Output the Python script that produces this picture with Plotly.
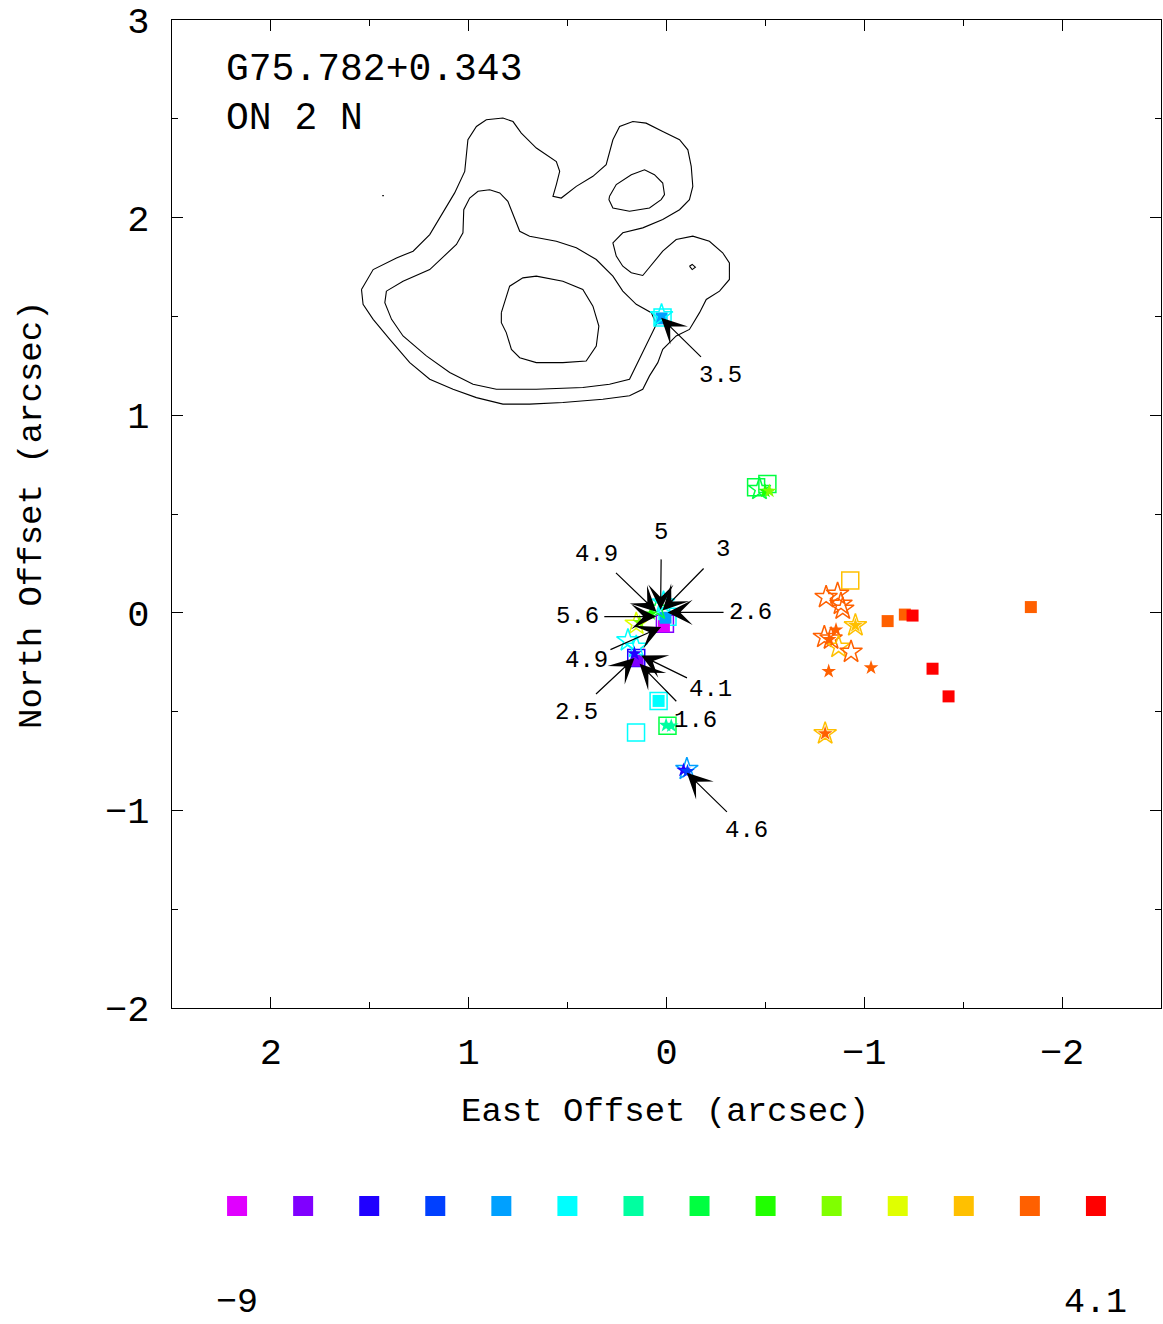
import math
import plotly.graph_objects as go

# ---------------- data ----------------
# velocity colour bins (14 bins from -9 to 4.1 km/s)
BIN_COLORS = ['#E000FF', '#8000FF', '#2000FF', '#0040FF', '#00A0FF', '#00FFFF', '#00FFA0',
              '#00FF40', '#20FF00', '#80FF00', '#E0FF00', '#FFC000', '#FF6000', '#FF0000']
KEY_LABELS = ['\u22129', '4.1']

# open squares
osq_x = [0.020, -0.453, -0.510, 0.008, -0.005, 0.153, 0.040, 0.154, -0.005, -0.929]
osq_y = [1.495, 0.635, 0.652, -0.056, -0.020, -0.229, -0.446, -0.606, -0.571, 0.163]
osq_bin = [5, 7, 7, 1, 5, 2, 5, 5, 7, 11]

# filled squares
fsq_x = [0.025, 0.013, 0.005, 0.146, 0.040, -1.118, -1.205, -1.244, -1.842, -1.345, -1.426]
fsq_y = [1.490, -0.068, -0.025, -0.242, -0.446, -0.042, -0.009, -0.014, 0.029, -0.283, -0.423]
fsq_bin = [4, 0, 4, 1, 5, 12, 12, 13, 12, 13, 13]

# open stars
ost_x = [0.025, -0.470, 0.045, 0.015, 0.153, 0.195, 0.153, -0.103, -0.807, -0.865, -0.882,
         -0.891, -0.955, -0.798, -0.832, -0.870, -0.933, -0.802]
ost_y = [1.505, 0.626, 0.020, 0.051, -0.056, -0.140, -0.173, -0.791, 0.079, 0.096, 0.045,
         0.020, -0.064, -0.123, -0.131, -0.173, -0.198, -0.611]
ost_bin = [5, 7, 7, 5, 10, 5, 5, 4, 12, 12, 12, 12, 11, 12, 12, 11, 12, 11]

# filled stars
fst_x = [-0.500, -0.520, 0.136, 0.080, 0.162, 0.002, -0.024, -0.086, -0.106, -0.955, -0.857,
         -0.823, -0.820, -1.034, -0.802]
fst_y = [0.616, 0.616, -0.048, -0.005, -0.207, -0.569, -0.572, -0.796, -0.803, -0.064, -0.086,
         -0.135, -0.296, -0.278, -0.611]
fst_bin = [8, 9, 9, 8, 2, 6, 6, 2, 3, 11, 12, 12, 12, 12, 12]

# labelled arrows: tip (spot) and tail position, with label
arr_tip_x = [0.027, 0.030, 0.020, 0.051, -0.005, 0.052, 0.027, 0.128, 0.162, 0.136, -0.103]
arr_tip_y = [1.493, 0.015, 0.012, 0.005, 0.002, -0.019, -0.072, -0.216, -0.229, -0.258, -0.810]
arr_tail_x = [-0.182, 0.027, -0.195, 0.263, -0.296, 0.322, 0.291, -0.111, 0.364, -0.057, -0.313]
arr_tail_y = [1.288, 0.278, 0.232, 0.209, 0.002, -0.019, -0.190, -0.333, -0.418, -0.455, -1.015]
arr_label = ['3.5', '5', '3', '4.9', '2.6', '5.6', '4.9', '4.1', '2.5', '1.6', '4.6']

# continuum contours (arcsec offsets)
cont_outer_x = [1.542, 1.483, 1.365, 1.281, 1.197, 1.130, 1.071, 1.020, 1.004, 0.961, 0.911, 0.827,
                0.776, 0.734, 0.658, 0.557, 0.540, 0.557, 0.574, 0.532, 0.456, 0.372, 0.305, 0.271,
                0.237, 0.170, 0.103, 0.019, -0.066, -0.108, -0.125, -0.133, -0.116, -0.066, 0.019,
                0.120, 0.221, 0.271, 0.254, 0.221, 0.178, 0.120, 0.069, 0.019, -0.049, -0.133,
                -0.217, -0.284, -0.318, -0.318, -0.268, -0.201, -0.167, -0.116, -0.049, 0.019,
                0.044, 0.086, 0.120, 0.187, 0.322, 0.524, 0.692, 0.827, 0.961, 1.079, 1.197, 1.298,
                1.399, 1.483, 1.534, 1.542]
cont_outer_y = [1.636, 1.737, 1.796, 1.830, 1.914, 2.024, 2.125, 2.234, 2.394, 2.461, 2.495, 2.504,
                2.486, 2.428, 2.352, 2.284, 2.234, 2.167, 2.108, 2.099, 2.158, 2.209, 2.268, 2.394,
                2.461, 2.486, 2.478, 2.436, 2.394, 2.343, 2.259, 2.158, 2.091, 2.040, 1.990,
                1.948, 1.923, 1.872, 1.805, 1.754, 1.721, 1.707, 1.771, 1.830, 1.889, 1.906,
                1.880, 1.822, 1.771, 1.687, 1.628, 1.586, 1.519, 1.434, 1.401, 1.333,
                1.266, 1.199, 1.131, 1.098, 1.081, 1.064, 1.056, 1.056, 1.089, 1.131, 1.182, 1.266,
                1.384, 1.485, 1.561, 1.636]
cont_mid_x = [1.416, 1.332, 1.197, 1.062, 1.029, 1.025, 0.995, 0.953, 0.894, 0.843, 0.802, 0.776,
              0.742, 0.692, 0.557, 0.456, 0.355, 0.271, 0.221, 0.153, 0.077, 0.051, 0.121, 0.187,
              0.288, 0.423, 0.658, 0.860, 0.978, 1.096, 1.214, 1.332, 1.390, 1.424, 1.416]
cont_mid_y = [1.628, 1.678, 1.737, 1.864, 1.923, 2.040, 2.099, 2.133, 2.141, 2.125, 2.082, 2.015,
              1.931, 1.906, 1.880, 1.847, 1.788, 1.704, 1.628, 1.561, 1.519, 1.460, 1.318, 1.182,
              1.157, 1.140, 1.131, 1.131, 1.157, 1.216, 1.300, 1.401, 1.485, 1.569, 1.628]
cont_inner_x = [0.835, 0.793, 0.726, 0.658, 0.524, 0.423, 0.372, 0.342, 0.355, 0.406, 0.524,
                0.658, 0.742, 0.784, 0.810, 0.835, 0.835]
cont_inner_y = [1.519, 1.653, 1.695, 1.704, 1.678, 1.636, 1.552, 1.451, 1.350, 1.274, 1.266,
                1.266, 1.291, 1.333, 1.418, 1.468, 1.519]
cont_loop_x = [0.288, 0.254, 0.178, 0.111, 0.061, 0.019, 0.010, 0.027, 0.086, 0.187, 0.271, 0.291, 0.288]
cont_loop_y = [2.108, 2.167, 2.217, 2.242, 2.217, 2.175, 2.116, 2.091, 2.049, 2.032, 2.049, 2.091, 2.108]
cont_small_x = [-0.116, -0.130, -0.146, -0.130, -0.116]
cont_small_y = [1.754, 1.763, 1.749, 1.737, 1.754]
cont_dot_x = [1.437, 1.429]
cont_dot_y = [2.111, 2.111]

# ---------------- figure ----------------
FONT = 'Liberation Mono'
W, H = 1163, 1324
M_L, M_R, M_T, M_B = 172, 2, 20, 10
PLOT_H = H - M_T - M_B


def paper_y(px):
    """page pixel row -> paper fraction"""
    return (H - M_B - px) / PLOT_H


fig = go.Figure()

for cx, cy in [(cont_outer_x, cont_outer_y), (cont_mid_x, cont_mid_y), (cont_inner_x, cont_inner_y),
               (cont_loop_x, cont_loop_y), (cont_small_x, cont_small_y), (cont_dot_x, cont_dot_y)]:
    fig.add_trace(go.Scatter(x=cx, y=cy, mode='lines', line=dict(color='black', width=1.1),
                             hoverinfo='skip', showlegend=False))


def cols(bins):
    return [BIN_COLORS[b] for b in bins]


fig.add_trace(go.Scatter(x=osq_x, y=osq_y, mode='markers', showlegend=False,
                         marker=dict(symbol='square-open', size=17, color=cols(osq_bin),
                                     line=dict(width=1.5, color=cols(osq_bin)))))
fig.add_trace(go.Scatter(x=fsq_x, y=fsq_y, mode='markers', showlegend=False,
                         marker=dict(symbol='square', size=12, color=cols(fsq_bin), line=dict(width=0))))
fig.add_trace(go.Scatter(x=ost_x, y=ost_y, mode='markers', showlegend=False,
                         marker=dict(symbol='star-open', size=17, color=cols(ost_bin),
                                     line=dict(width=1.5, color=cols(ost_bin)))))
fig.add_trace(go.Scatter(x=fst_x, y=fst_y, mode='markers', showlegend=False,
                         marker=dict(symbol='star', size=11, color=cols(fst_bin), line=dict(width=0))))

# colour key
key_x = list(range(len(BIN_COLORS)))
fig.add_trace(go.Scatter(x=key_x, y=[0] * len(key_x), xaxis='x2', yaxis='y2', mode='markers',
                         showlegend=False, hoverinfo='skip',
                         marker=dict(symbol='square', size=20, color=BIN_COLORS, line=dict(width=0))))

annotations = []
LABEL_GAP = 25  # px beyond the tail
for tx, ty, ax, ay, lab in zip(arr_tip_x, arr_tip_y, arr_tail_x, arr_tail_y, arr_label):
    annotations.append(dict(x=tx, y=ty, ax=ax, ay=ay, xref='x', yref='y', axref='x', ayref='y',
                            text='', showarrow=True, arrowhead=3, arrowsize=3.5, arrowwidth=1.2,
                            arrowcolor='black', standoff=0, startstandoff=0))
    dx, dy = ax - tx, ay - ty
    n = math.hypot(dx, dy)
    annotations.append(dict(x=ax, y=ay, xref='x', yref='y', text=lab, showarrow=False,
                            xshift=-LABEL_GAP * dx / n, yshift=LABEL_GAP * dy / n,
                            font=dict(family=FONT, size=24, color='black')))

annotations += [
    dict(x=2.237, y=2.747, xref='x', yref='y', text='G75.782+0.343', showarrow=False,
         xanchor='left', yanchor='middle', font=dict(family=FONT, size=38, color='black')),
    dict(x=2.237, y=2.500, xref='x', yref='y', text='ON 2 N', showarrow=False,
         xanchor='left', yanchor='middle', font=dict(family=FONT, size=38, color='black')),
    dict(x=0.4985, y=paper_y(1112), xref='paper', yref='paper', text='East Offset (arcsec)', showarrow=False,
         xanchor='center', yanchor='middle', font=dict(family=FONT, size=34, color='black')),
    dict(x=-0.1416, y=paper_y(515), xref='paper', yref='paper', text='North Offset (arcsec)', showarrow=False,
         textangle=-90, xanchor='center', yanchor='middle', font=dict(family=FONT, size=34, color='black')),
    dict(x=0, y=paper_y(1303), xref='x2', yref='paper', text=KEY_LABELS[0], showarrow=False,
         xanchor='center', yanchor='middle', font=dict(family=FONT, size=35, color='black')),
    dict(x=len(BIN_COLORS) - 1, y=paper_y(1303), xref='x2', yref='paper', text=KEY_LABELS[1],
         showarrow=False, xanchor='center', yanchor='middle',
         font=dict(family=FONT, size=35, color='black')),
]

axis_common = dict(showline=True, linecolor='black', linewidth=1.2, mirror='ticks', ticks='inside',
                   ticklen=11, tickwidth=1, tickcolor='black', showgrid=False, zeroline=False,
                   dtick=1, tick0=0, automargin=False,
                   minor=dict(dtick=0.5, tick0=0, ticks='inside', ticklen=6, tickcolor='black',
                              tickwidth=1, showgrid=False),
                   tickfont=dict(family=FONT, size=37, color='black'))

fig.update_layout(
    autosize=False,
    width=W, height=H,
    margin=dict(l=M_L, r=M_R, t=M_T, b=M_B, autoexpand=False),
    paper_bgcolor='white', plot_bgcolor='white',
    xaxis=dict(range=[2.5, -2.5], domain=[0, 1], anchor='y', ticklabelstandoff=10, **axis_common),
    yaxis=dict(range=[-2, 3], domain=[paper_y(1008), paper_y(20)], anchor='x', ticklabelstandoff=14,
               **axis_common),
    xaxis2=dict(range=[-0.985, 13.985], domain=[0, 1], anchor='y2', visible=False, automargin=False),
    yaxis2=dict(range=[-1, 1], domain=[paper_y(1226), paper_y(1186)], anchor='x2', visible=False,
                automargin=False),
    annotations=annotations,
    showlegend=False,
)

fig.write_html('out.html', config={'responsive': False})
